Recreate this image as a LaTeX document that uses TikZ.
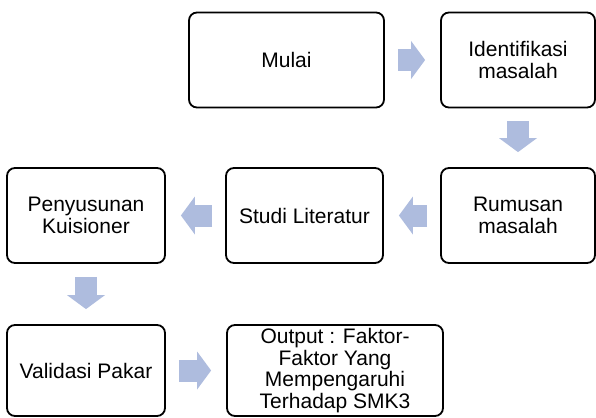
\documentclass[tikz,border=0pt]{standalone}
\usepackage{fontspec}
\setmainfont{Liberation Sans}
\usetikzlibrary{arrows.meta}
\definecolor{arrowblue}{RGB}{174,188,222}
\begin{document}
\begin{tikzpicture}[x=1pt,y=-1pt,line join=round,
  box/.style={draw,line width=1.8pt,rounded corners=8pt,align=center,inner sep=0pt,
    minimum height=95pt,font=\fontsize{21}{21.7}\selectfont},
  flow/.style={draw=arrowblue,line width=22pt,
    -{Triangle[width=38pt,length=14pt,line width=0pt]},shorten <=13pt,shorten >=15pt}]
\useasboundingbox (0,0) rectangle (596,417);
% top row
\node[box,minimum width=195pt] (mulai) at (286.5,60) {Mulai};
\node[box,minimum width=154pt] (ident) at (518,60) {Identifikasi\\masalah};
% middle row
\node[box,minimum width=154pt] (rumus) at (518,215.5) {Rumusan\\masalah};
\node[box,minimum width=157pt] (studi) at (304.5,215.5) {Studi Literatur};
\node[box,minimum width=158pt] (susun) at (86,215.5) {Penyusunan\\Kuisioner};
% bottom row
\node[box,minimum width=158pt,minimum height=91pt] (valid) at (86,370.5) {Validasi Pakar};
\node[box,minimum width=216pt,minimum height=91pt] (output) at (335,370.5)
  {Output : Faktor-\\Faktor Yang\\Mempengaruhi\\Terhadap SMK3};
\foreach \a/\b in {mulai/ident,ident/rumus,rumus/studi,studi/susun,susun/valid,valid/output}
  \draw[flow] (\a) -- (\b);
\end{tikzpicture}
\end{document}
